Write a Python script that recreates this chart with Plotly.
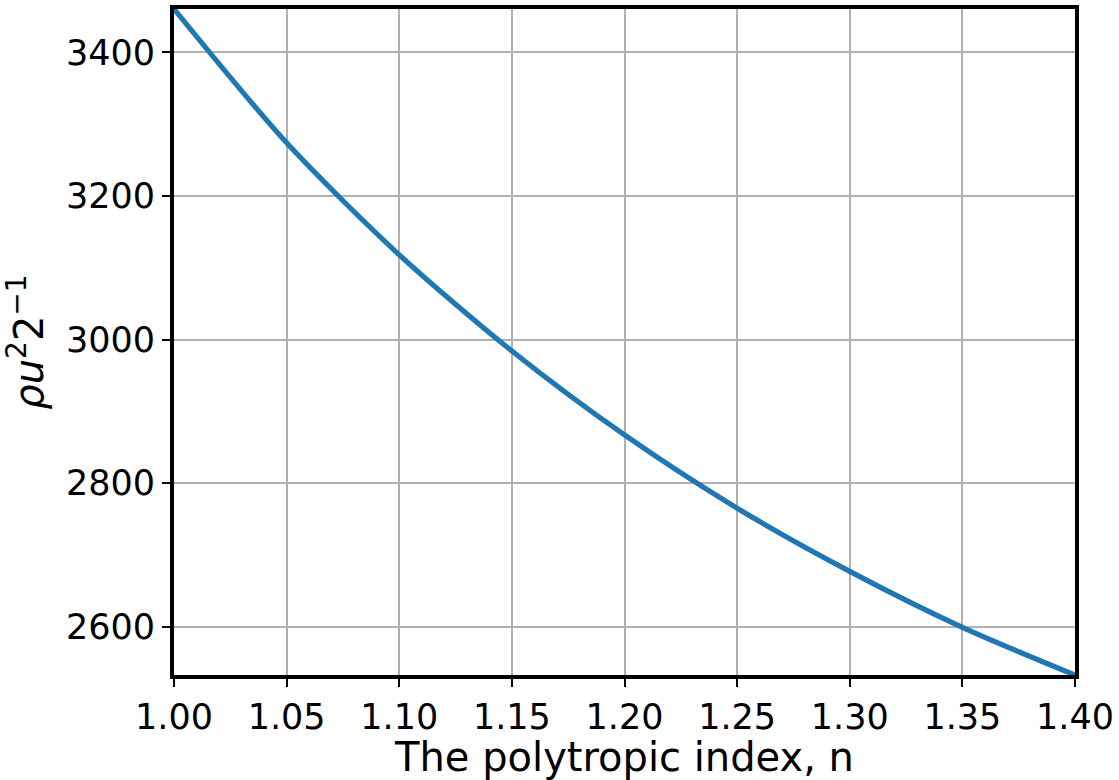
import plotly.graph_objects as go

n_vals = [1.00, 1.05, 1.10, 1.15, 1.20, 1.25, 1.30, 1.35, 1.40]
y_vals = [3460.5, 3274, 3118, 2984, 2867, 2765, 2677, 2599, 2532.6]

x_ticks = [1.00, 1.05, 1.10, 1.15, 1.20, 1.25, 1.30, 1.35, 1.40]
x_tick_text = ["1.00", "1.05", "1.10", "1.15", "1.20", "1.25", "1.30", "1.35", "1.40"]
y_ticks = [2600, 2800, 3000, 3200, 3400]

fig = go.Figure()
fig.add_trace(go.Scatter(
    x=n_vals, y=y_vals, mode="lines",
    line=dict(color="#1f77b4", width=5.2, shape="spline", smoothing=0.8),
    showlegend=False,
))

font = "DejaVu Sans"
fig.update_layout(
    width=1119, height=780,
    margin=dict(l=174, r=43, t=5, b=105),
    paper_bgcolor="white", plot_bgcolor="white",
    font=dict(family=font, color="black", size=35),
)
fig.update_xaxes(
    range=[1.0, 1.4], tickvals=x_ticks, ticktext=x_tick_text,
    showgrid=True, gridcolor="#b0b0b0", gridwidth=2,
    showline=True, linecolor="black", linewidth=4, mirror=True,
    ticks="outside", ticklen=8, tickwidth=2, tickcolor="black",
    tickfont=dict(size=35, family=font),
    title=dict(text="The polytropic index, n", font=dict(size=40, family=font), standoff=8),
    zeroline=False,
)
fig.update_yaxes(
    range=[2532.6, 3460.5], tickvals=y_ticks,
    showgrid=True, gridcolor="#b0b0b0", gridwidth=2,
    showline=True, linecolor="black", linewidth=4, mirror=True,
    ticks="outside", ticklen=8, tickwidth=2, tickcolor="black",
    tickfont=dict(size=35, family=font),
    title=dict(text="<i>ρu</i><sup>2</sup>2<sup>−1</sup>", font=dict(size=40, family=font), standoff=12),
    zeroline=False,
)

fig.write_html("out.html")
